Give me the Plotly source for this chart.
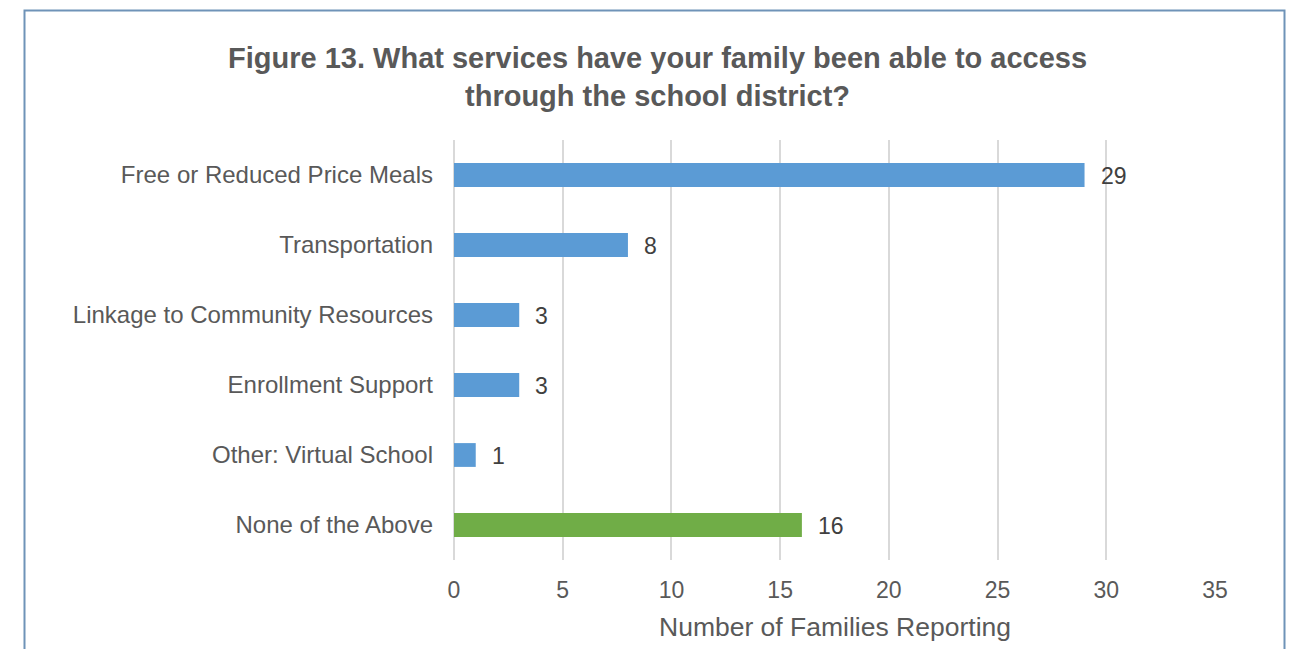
import plotly.graph_objects as go

# Survey responses (top to bottom)
services = [
    "Free or Reduced Price Meals",
    "Transportation",
    "Linkage to Community Resources",
    "Enrollment Support",
    "Other: Virtual School",
    "None of the Above",
]
families = [29, 8, 3, 3, 1, 16]
bar_colors = ["#5B9BD5", "#5B9BD5", "#5B9BD5", "#5B9BD5", "#5B9BD5", "#70AD47"]
x_ticks = [0, 5, 10, 15, 20, 25, 30, 35]

FONT = "Liberation Sans, Arial, sans-serif"
W, H = 1291, 649
ML, MR, MT, MB = 454, 76, 140, 89
PW, PH = W - ML - MR, H - MT - MB


def px_to_paper_x(px):
    return (px - ML) / PW


def px_to_paper_y(py):
    return 1 + (MT - py) / PH


fig = go.Figure(
    go.Bar(
        y=services,
        x=families,
        orientation="h",
        marker=dict(color=bar_colors, line=dict(width=0)),
        hoverinfo="x+y",
    )
)

# value labels to the right of each bar
for s, v in zip(services, families):
    fig.add_annotation(
        x=v, y=s, xref="x", yref="y", text=str(v), showarrow=False,
        xanchor="left", yanchor="middle", xshift=14, yshift=-1,
        font=dict(family=FONT, size=23, color="#404040"),
    )

# two-line title
fig.add_annotation(
    x=px_to_paper_x(657), y=px_to_paper_y(77), xref="paper", yref="paper",
    text="<b>Figure 13. What services have your family been able to access<br>through the school district?</b>",
    showarrow=False, xanchor="center", yanchor="middle", align="center",
    font=dict(family=FONT, size=29, color="#595959"),
)

# axis title
fig.add_annotation(
    x=px_to_paper_x(835), y=px_to_paper_y(627), xref="paper", yref="paper",
    text="Number of Families Reporting", showarrow=False,
    xanchor="center", yanchor="middle",
    font=dict(family=FONT, size=26.5, color="#595959"),
)

# outer frame
fig.add_shape(
    type="rect", xref="paper", yref="paper",
    x0=px_to_paper_x(24.5), x1=px_to_paper_x(1284.5),
    y0=px_to_paper_y(700), y1=px_to_paper_y(10.5),
    line=dict(color="#6F93B8", width=2), fillcolor="rgba(0,0,0,0)", layer="below",
)

fig.update_layout(
    width=W, height=H,
    margin=dict(l=ML, r=MR, t=MT, b=MB, pad=0),
    paper_bgcolor="white", plot_bgcolor="white",
    bargap=0.66,
    showlegend=False,
    font=dict(family=FONT, size=23, color="#595959"),
    xaxis=dict(
        range=[0, 35], tickvals=x_ticks, ticktext=[str(t) for t in x_ticks],
        showgrid=True, gridcolor="#D9D9D9", gridwidth=2,
        zeroline=True, zerolinecolor="#D9D9D9", zerolinewidth=2,
        showline=False, ticks="",
        ticklabelstandoff=14,
        tickfont=dict(family=FONT, size=23, color="#595959"),
        fixedrange=True,
    ),
    yaxis=dict(
        categoryorder="array", categoryarray=services[::-1],
        showgrid=False, zeroline=False, showline=False, ticks="",
        ticklabelstandoff=20,
        tickfont=dict(family=FONT, size=24, color="#595959"),
        fixedrange=True,
    ),
)

fig.write_html("out.html")
